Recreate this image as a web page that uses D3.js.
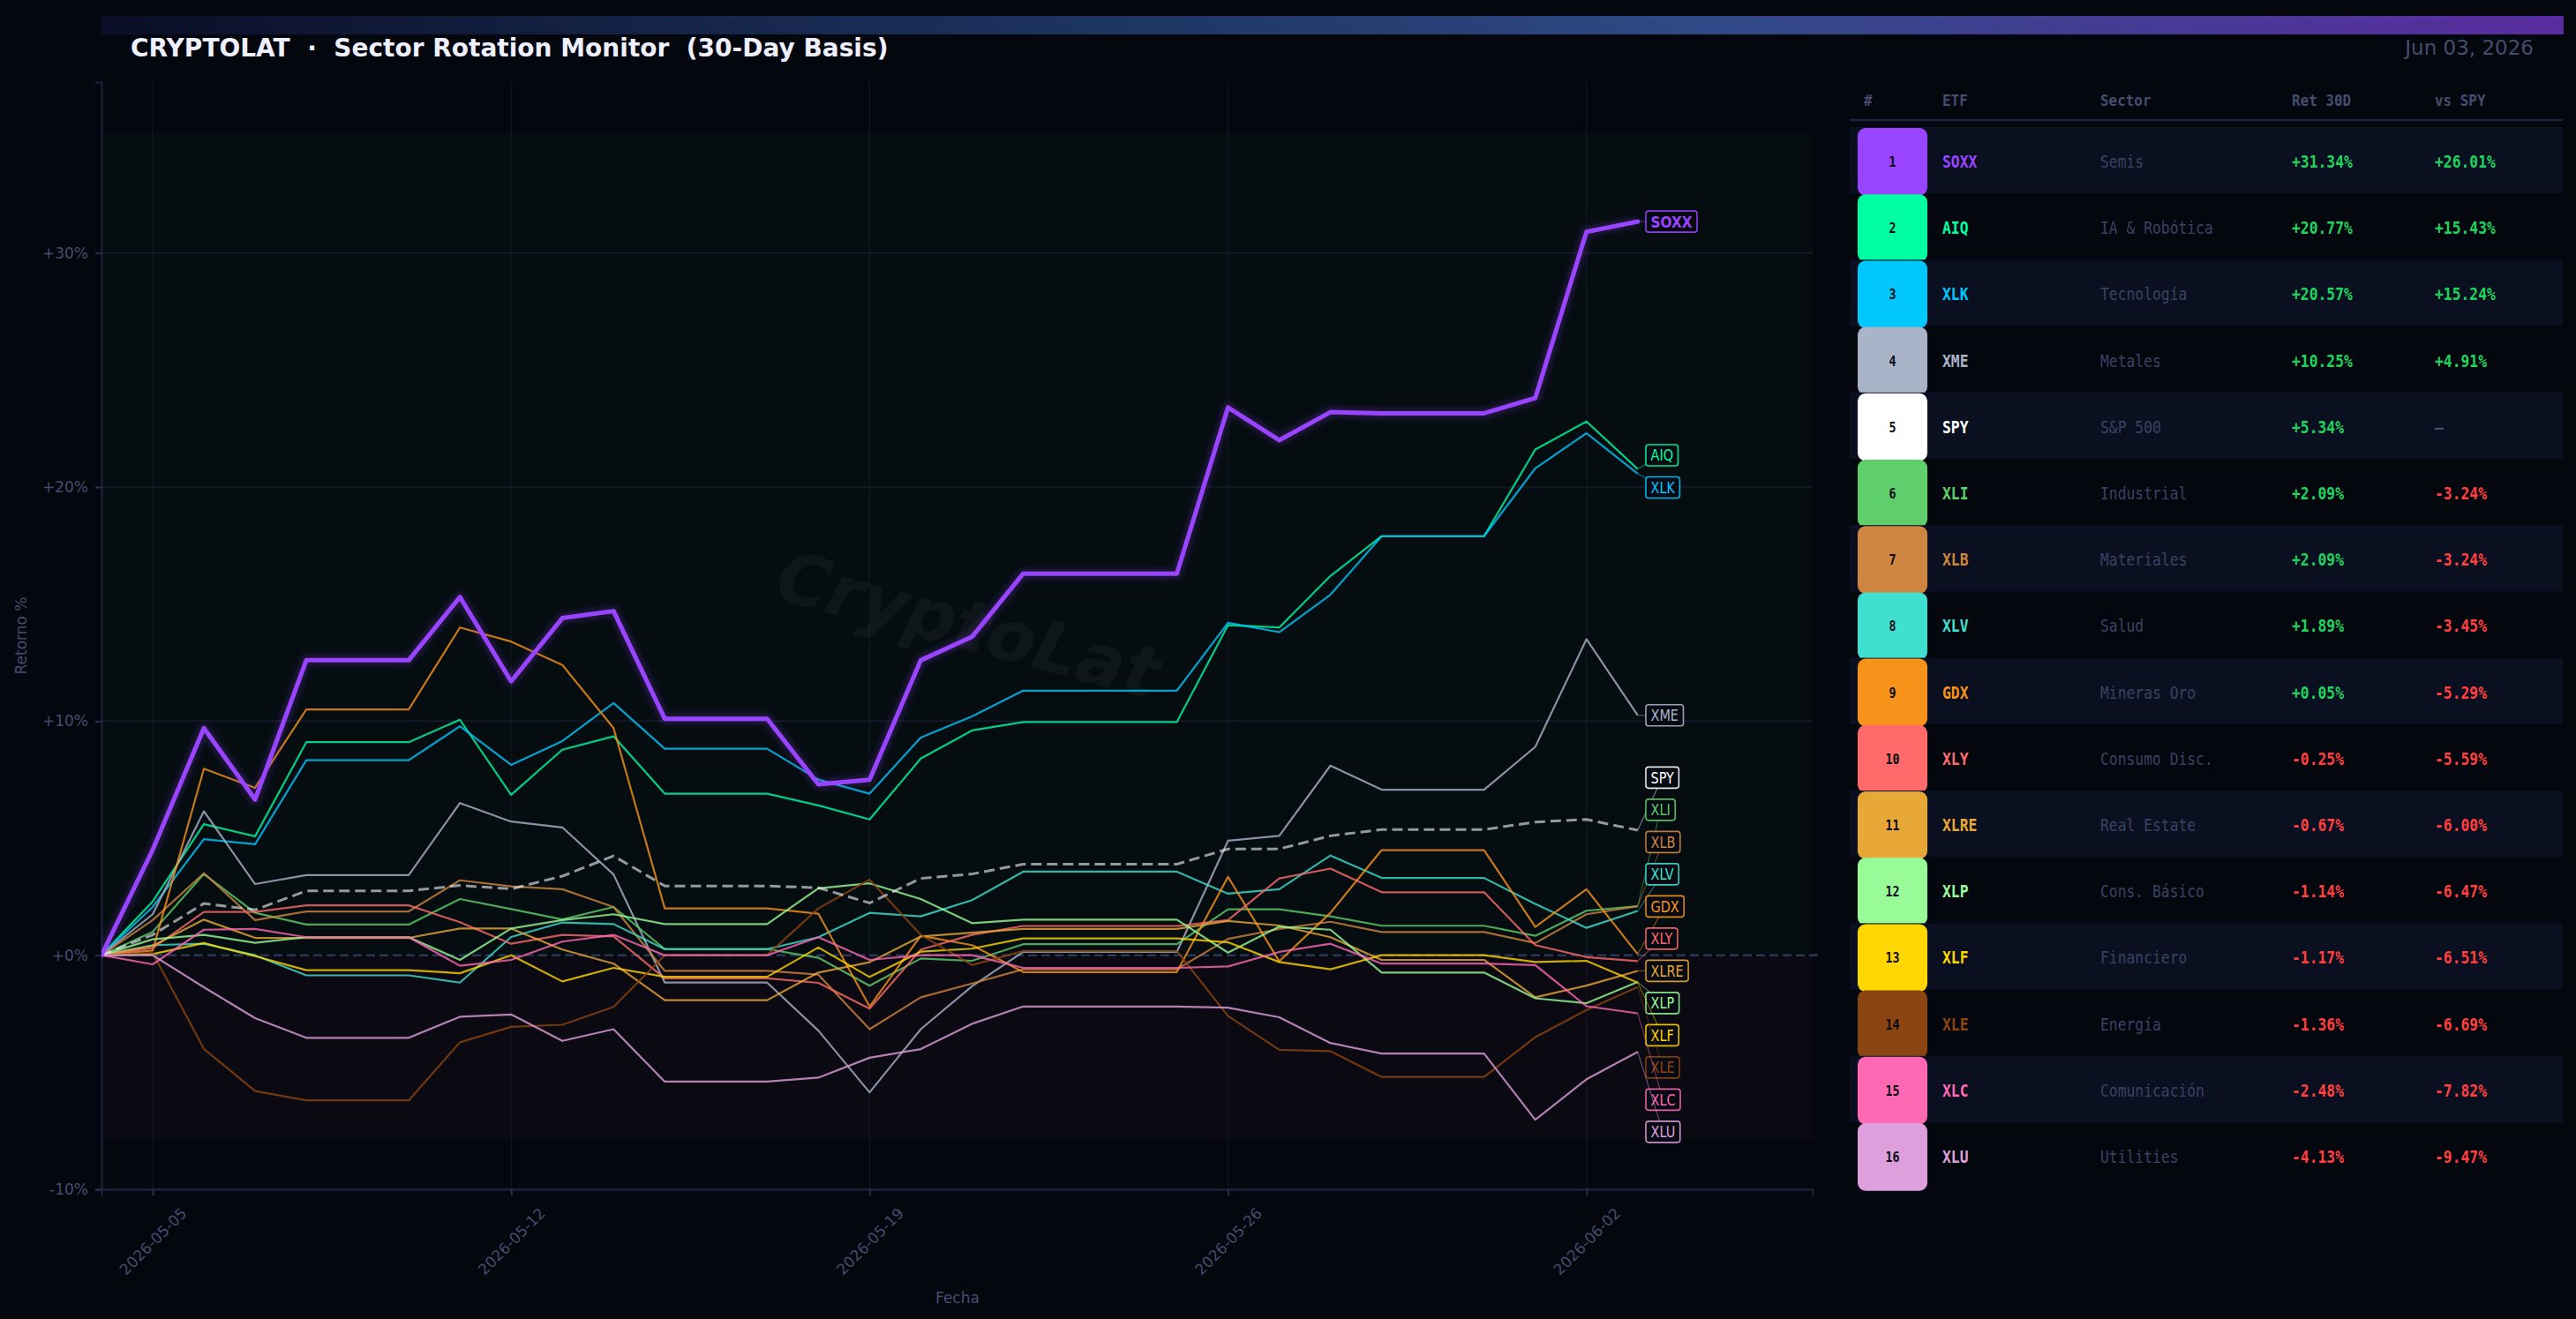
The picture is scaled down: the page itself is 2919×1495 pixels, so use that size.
<!DOCTYPE html>
<html>
<head>
<meta charset="utf-8">
<script src="https://cdn.jsdelivr.net/npm/d3@7"></script>
<style>
  html, body { margin: 0; padding: 0; background: #05070e; }
  svg { display: block; }
</style>
</head>
<body>
<div id="chart"></div>
<script>
// ---- donnees ----
const tickers = ["SOXX", "AIQ", "XLK", "XME", "SPY", "XLI", "XLB", "XLV", "GDX", "XLY", "XLRE", "XLP", "XLF", "XLE", "XLC", "XLU"];
const sectors = ["Semis", "IA & Robótica", "Tecnología", "Metales", "S&P 500", "Industrial", "Materiales", "Salud", "Mineras Oro", "Consumo Disc.", "Real Estate", "Cons. Básico", "Financiero", "Energía", "Comunicación", "Utilities"];
const colors = ["#9945ff", "#00ffa3", "#00c8ff", "#a9b4c8", "#ffffff", "#5ecf6a", "#cd853f", "#40e0d0", "#f7931a", "#ff6b6b", "#e8a838", "#98fb98", "#ffd700", "#8b4513", "#ff69b4", "#dda0dd"];
const ret30 = [31.34, 20.77, 20.57, 10.25, 5.34, 2.09, 2.09, 1.89, 0.05, -0.25, -0.67, -1.14, -1.17, -1.36, -2.48, -4.13];
const vsSpy = [26.01, 15.43, 15.24, 4.91, null, -3.24, -3.24, -3.45, -5.29, -5.59, -6.00, -6.47, -6.51, -6.69, -7.82, -9.47];

const startDate = new Date(2026, 4, 4);
const endDate = new Date(2026, 5, 3);
const yTicks = [-10, 0, 10, 20, 30];

// retour cumule (%) par jour, 2026-05-04 -> 2026-06-03
const SOXX = [0, 4.5, 9.7, 6.65, 12.6, 12.6, 12.6, 15.3, 11.7, 14.4, 14.7, 10.1, 10.1, 10.1, 7.3, 7.5, 12.6, 13.6, 16.3, 16.3, 16.3, 16.3, 23.4, 22.0, 23.2, 23.15, 23.15, 23.15, 23.8, 30.9, 31.34];
const AIQ = [0, 2.3, 5.6, 5.08, 9.1, 9.1, 9.1, 10.06, 6.85, 8.78, 9.35, 6.9, 6.9, 6.9, 6.4, 5.8, 8.4, 9.6, 9.96, 9.96, 9.96, 9.96, 14.1, 14.0, 16.2, 17.9, 17.9, 17.9, 21.6, 22.8, 20.77];
const XLK = [0, 2.06, 4.96, 4.74, 8.33, 8.33, 8.33, 9.78, 8.13, 9.15, 10.77, 8.82, 8.82, 8.82, 7.5, 6.9, 9.3, 10.2, 11.3, 11.3, 11.3, 11.3, 14.2, 13.8, 15.4, 17.9, 17.9, 17.9, 20.8, 22.3, 20.57];
const XME = [0, 1.75, 6.15, 3.04, 3.42, 3.42, 3.42, 6.5, 5.71, 5.46, 3.45, -1.17, -1.17, -1.17, -3.22, -5.86, -3.16, -1.33, 0.14, 0.14, 0.14, 0.14, 4.89, 5.1, 8.1, 7.07, 7.07, 7.07, 8.9, 13.5, 10.25];
const SPY = [0, 0.87, 2.21, 1.94, 2.75, 2.75, 2.75, 2.98, 2.83, 3.38, 4.24, 2.96, 2.96, 2.96, 2.88, 2.23, 3.28, 3.47, 3.89, 3.89, 3.89, 3.89, 4.54, 4.54, 5.1, 5.37, 5.37, 5.37, 5.69, 5.8, 5.34];
const XLI = [0, 1.0, 3.47, 1.81, 1.31, 1.31, 1.31, 2.4, 1.97, 1.53, 2.06, 0.26, 0.26, 0.26, -0.11, -1.3, -0.14, -0.24, 0.47, 0.47, 0.47, 0.47, 1.96, 1.96, 1.66, 1.26, 1.26, 1.26, 0.83, 1.9, 2.09];
const XLB = [0, 1.5, 3.5, 1.5, 1.87, 1.87, 1.87, 3.2, 2.94, 2.82, 2.06, -0.67, -0.67, -0.67, -0.83, -3.16, -1.8, -1.21, -0.6, -0.6, -0.6, -0.6, 0.7, 1.12, 1.43, 0.99, 0.99, 0.99, 0.52, 1.75, 2.09];
const XLV = [0, 0.43, 0.49, 0, -0.86, -0.86, -0.86, -1.17, 0.78, 1.4, 1.33, 0.26, 0.26, 0.26, 0.77, 1.81, 1.66, 2.35, 3.57, 3.57, 3.57, 3.57, 2.63, 2.82, 4.26, 3.3, 3.3, 3.3, 2.19, 1.17, 1.89];
const GDX = [0, 0.2, 7.97, 7.15, 10.5, 10.5, 10.5, 14.0, 13.4, 12.4, 9.7, 2.0, 2.0, 2.0, 1.77, -2.19, 0.83, 0.43, -0.72, -0.72, -0.72, -0.72, 3.35, -0.26, 1.81, 4.49, 4.49, 4.49, 1.21, 2.82, 0.05];
const XLY = [0, 0.3, 1.85, 1.85, 2.13, 2.13, 2.13, 1.41, 0.49, 0.87, 0.8, -0.99, -0.99, -0.99, -1.18, -2.28, 0.24, 0.87, 1.25, 1.25, 1.25, 1.25, 1.5, 3.28, 3.7, 2.69, 2.69, 2.69, 0.43, -0.08, -0.25];
const XLRE = [0, 0.4, 1.52, 0.74, 0.74, 0.74, 0.74, 1.14, 1.14, 0.24, -0.36, -1.92, -1.92, -1.92, -0.74, -0.3, 0.8, 0.96, 1.12, 1.12, 1.12, 1.12, 1.46, 1.27, 0.77, -0.2, -0.2, -0.2, -1.8, -1.3, -0.67];
const XLP = [0, 0.68, 0.87, 0.53, 0.77, 0.77, 0.77, -0.2, 1.14, 1.5, 1.75, 1.33, 1.33, 1.33, 2.86, 3.07, 2.4, 1.37, 1.52, 1.52, 1.52, 1.52, 0.11, 1.22, 1.09, -0.74, -0.74, -0.74, -1.84, -2.05, -1.14];
const XLF = [0, 0.05, 0.52, -0.04, -0.64, -0.64, -0.64, -0.77, 0, -1.12, -0.54, -0.92, -0.92, -0.92, 0.33, -0.93, 0.15, 0.28, 0.72, 0.72, 0.72, 0.72, 0.55, -0.29, -0.6, 0, 0, 0, -0.29, -0.24, -1.17];
const XLE = [0, 0.1, -4.0, -5.8, -6.2, -6.2, -6.2, -3.72, -3.06, -2.97, -2.21, 0.0, 0.0, 0.0, 2.0, 3.23, 0.87, -0.42, 0.18, 0.18, 0.18, 0.18, -2.6, -4.04, -4.1, -5.2, -5.2, -5.2, -3.5, -2.34, -1.36];
const XLC = [0, -0.39, 1.09, 1.12, 0.77, 0.77, 0.77, -0.45, -0.2, 0.58, 0.87, 0, 0, 0, 0.77, -0.2, 0, 0, -0.54, -0.54, -0.54, -0.54, -0.48, 0.14, 0.49, -0.36, -0.36, -0.36, -0.42, -2.18, -2.48];
const XLU = [0, 0, -1.37, -2.69, -3.53, -3.53, -3.53, -2.63, -2.53, -3.66, -3.16, -5.4, -5.4, -5.4, -5.23, -4.38, -4.01, -2.93, -2.19, -2.19, -2.19, -2.19, -2.24, -2.65, -3.75, -4.2, -4.2, -4.2, -7.03, -5.3, -4.13];

const seriesByTicker = { SOXX, AIQ, XLK, XME, SPY, XLI, XLB, XLV, GDX, XLY, XLRE, XLP, XLF, XLE, XLC, XLU };

// ---- mise en page ----
const width = 2919, height = 1495;
const plot = { left: 115, right: 2054, top: 93, bottom: 1348 };
const muted = "#454d6e";

const dates = d3.timeDay.range(startDate, d3.timeDay.offset(endDate, 1));
const rows = tickers.map((t, i) => ({
  ticker: t, sector: sectors[i], color: colors[i], ret: ret30[i], vs: vsSpy[i], rank: i + 1,
  values: seriesByTicker[t].map((v, k) => ({ date: dates[k], v }))
}));

// texte un peu etroit (police condensee a l'horizontale)
const squeeze = (sel, x, y, k) => sel.attr("transform", `translate(${x},${y}) scale(${k},1)`);

const svg = d3.select("#chart").append("svg")
  .attr("width", width).attr("height", height)
  .style("background", "#05070e");

const defs = svg.append("defs");
const grad = defs.append("linearGradient").attr("id", "topbar");
[["0%", "#0a0e26"], ["40%", "#1c3460"], ["65%", "#2f4a86"], ["100%", "#5a2ca0"]]
  .forEach(([o, c]) => grad.append("stop").attr("offset", o).attr("stop-color", c));
defs.append("filter").attr("id", "glow").attr("x", "-5%").attr("y", "-5%").attr("width", "110%").attr("height", "110%")
  .append("feGaussianBlur").attr("stdDeviation", 3);
defs.append("clipPath").attr("id", "plotclip").append("rect")
  .attr("x", plot.left).attr("y", plot.top)
  .attr("width", plot.right - plot.left).attr("height", plot.bottom - plot.top);

// bandeau + titre
svg.append("rect").attr("x", 115).attr("y", 18).attr("width", 2790).attr("height", 21).attr("fill", "url(#topbar)");
svg.append("text").attr("x", 148).attr("y", 64)
  .style("font-family", "DejaVu Sans").style("font-weight", "bold").style("font-size", "28px")
  .attr("fill", "#eef0ff")
  .text("CRYPTOLAT  ·  Sector Rotation Monitor  (30-Day Basis)")
  .attr("xml:space", "preserve").style("white-space", "pre");
svg.append("text").attr("x", 2871).attr("y", 62).attr("text-anchor", "end")
  .style("font-family", "DejaVu Sans").style("font-size", "23px").attr("fill", muted)
  .text(d3.timeFormat("%b %d, %Y")(endDate));

// echelles
const x = d3.scaleTime()
  .domain([startDate, d3.timeHour.offset(endDate, 82)])
  .range([plot.left, plot.right]);
const y = d3.scaleLinear().domain([-10, 37.3]).range([plot.bottom, plot.top]);

const maxV = d3.max(rows, r => d3.max(r.values, d => d.v));
const minV = d3.min(rows, r => d3.min(r.values, d => d.v));

// zones
svg.append("rect").attr("x", plot.left).attr("width", plot.right - plot.left)
  .attr("y", y(maxV * 1.12)).attr("height", y(0) - y(maxV * 1.12)).attr("fill", "#050d11");
svg.append("rect").attr("x", plot.left).attr("width", plot.right - plot.left)
  .attr("y", y(0)).attr("height", y(minV * 1.12) - y(0)).attr("fill", "#0b0911");

// grille
const xTickVals = dates.filter(d => d.getDay() === 2);
svg.append("g").selectAll("line").data(yTicks.filter(t => t !== 0)).join("line")
  .attr("x1", plot.left).attr("x2", plot.right).attr("y1", d => y(d)).attr("y2", d => y(d))
  .attr("stroke", "#161c2c").attr("stroke-width", 1.5);
svg.append("g").selectAll("line").data(xTickVals).join("line")
  .attr("x1", d => x(d)).attr("x2", d => x(d)).attr("y1", plot.top).attr("y2", plot.bottom)
  .attr("stroke", "#121725").attr("stroke-width", 1.2);

// filigrane
svg.append("text").attr("transform", "translate(1090,735) rotate(15)")
  .attr("text-anchor", "middle")
  .style("font-family", "DejaVu Sans").style("font-weight", "bold").style("font-style", "italic")
  .style("font-size", "80px").attr("fill", "#ffffff").attr("opacity", 0.035)
  .text("CryptoLat");

// axes
const yAxis = svg.append("g").attr("transform", `translate(${plot.left},0)`)
  .call(d3.axisLeft(y).tickValues(yTicks).tickSize(7).tickPadding(8)
    .tickFormat(d => (d >= 0 ? "+" : "") + d + "%"));
const xAxis = svg.append("g").attr("transform", `translate(0,${plot.bottom})`)
  .call(d3.axisBottom(x).tickValues(xTickVals).tickSize(7).tickFormat(d3.timeFormat("%Y-%m-%d")));
[yAxis, xAxis].forEach(a => {
  a.select(".domain").attr("stroke", "#1e2540").attr("stroke-width", 2);
  a.selectAll(".tick line").attr("stroke", "#2a3252").attr("stroke-width", 2);
  a.selectAll("text").style("font-family", "DejaVu Sans").style("font-size", "17px").attr("fill", muted);
});
xAxis.selectAll(".tick text")
  .attr("y", 0).attr("dy", null)
  .attr("transform", "translate(0,59) rotate(-45)")
  .attr("text-anchor", "middle").attr("dominant-baseline", "central");

svg.append("text").attr("transform", `translate(24,${(plot.top + plot.bottom) / 2}) rotate(-90)`)
  .attr("text-anchor", "middle").attr("dominant-baseline", "central")
  .style("font-family", "DejaVu Sans").style("font-size", "17px").attr("fill", muted).text("Retorno %");
svg.append("text").attr("x", 1085).attr("y", 1477).attr("text-anchor", "middle")
  .style("font-family", "DejaVu Sans").style("font-size", "17px").attr("fill", muted).text("Fecha");

// ligne zero
svg.append("line").attr("x1", plot.left).attr("x2", plot.right + 6).attr("y1", y(0)).attr("y2", y(0))
  .attr("stroke", "#2b3656").attr("stroke-width", 2.5).attr("stroke-dasharray", "10,5");

// lignes
const line = d3.line().x(d => x(d.date)).y(d => y(d.v));
const lines = svg.append("g").attr("clip-path", "url(#plotclip)");
const others = rows.filter(r => r.ticker !== "SOXX" && r.ticker !== "SPY");
lines.selectAll("path.serie").data(others).join("path")
  .attr("class", "serie")
  .attr("d", r => line(r.values))
  .attr("fill", "none").attr("stroke", r => r.color)
  .attr("stroke-width", 2.2).attr("stroke-opacity", 0.8).attr("stroke-linejoin", "round");

const spy = rows.find(r => r.ticker === "SPY");
lines.append("path").attr("d", line(spy.values)).attr("fill", "none")
  .attr("stroke", "#ffffff").attr("stroke-opacity", 0.58).attr("stroke-width", 3)
  .attr("stroke-dasharray", "12,6");

const soxx = rows.find(r => r.ticker === "SOXX");
lines.append("path").attr("d", line(soxx.values)).attr("fill", "none")
  .attr("stroke", soxx.color).attr("stroke-opacity", 0.22).attr("stroke-width", 11)
  .attr("stroke-linejoin", "round").attr("filter", "url(#glow)");
lines.append("path").attr("d", line(soxx.values)).attr("fill", "none")
  .attr("stroke", soxx.color).attr("stroke-width", 5)
  .attr("stroke-linejoin", "round").attr("stroke-linecap", "round");

// etiquettes de fin (anti-collision par groupes centres)
const gap = 36.5;
const labels = rows.map(r => ({ r, target: y(r.ret) }));
labels.sort((a, b) => a.target - b.target);
let groups = labels.map(l => ({ members: [l], pos: l.target }));
let merged = true;
while (merged) {
  merged = false;
  for (let i = 0; i < groups.length - 1; i++) {
    const a = groups[i], b = groups[i + 1];
    const aEnd = a.pos + (a.members.length - 1) * gap / 2;
    const bStart = b.pos - (b.members.length - 1) * gap / 2;
    if (bStart - aEnd < gap) {
      const members = a.members.concat(b.members);
      groups.splice(i, 2, { members, pos: d3.mean(members, m => m.target) });
      merged = true;
      break;
    }
  }
}
groups.forEach(g => g.members.forEach((m, k) => { m.y = g.pos + (k - (g.members.length - 1) / 2) * gap; }));

const lastX = x(endDate);
const labelX = 1865;
const lk = 0.85;
const lab = svg.append("g");
labels.forEach(l => {
  const bold = l.r.ticker === "SOXX";
  const g = lab.append("g");
  const t = g.append("text")
    .attr("dominant-baseline", "central")
    .style("font-family", "DejaVu Sans").style("font-size", bold ? "18px" : "17px")
    .style("font-weight", bold ? "bold" : "normal")
    .attr("fill", l.r.color).text(l.r.ticker)
    .call(squeeze, labelX + 5.5, l.y + 0.5, lk);
  const w = t.node().getComputedTextLength() * lk + 11;
  g.insert("rect", "text")
    .attr("x", labelX).attr("y", l.y - 12).attr("width", w).attr("height", 24).attr("rx", 3)
    .attr("fill", "#070a12").attr("stroke", l.r.color).attr("stroke-width", 1.6).attr("stroke-opacity", 0.9);
  g.insert("line", "rect")
    .attr("x1", lastX).attr("y1", y(l.r.ret)).attr("x2", labelX + w / 2).attr("y2", l.y)
    .attr("stroke", l.r.color).attr("stroke-opacity", 0.45).attr("stroke-width", 1.2);
});

// ---- tableau ----
const tbl = { left: 2096, right: 2904, top: 144, rowH: 75.2 };
const cols = { rank: 2144.5, etf: 2201, sector: 2380, ret: 2597, vs: 2759 };
const mono = "DejaVu Sans Mono";
const green = "#1fd35f", red = "#ff4040";
const tk = 0.86;

const head = svg.append("g").style("font-family", mono).style("font-size", "18.5px")
  .style("font-weight", "bold").attr("fill", muted);
[["#", 2112], ["ETF", cols.etf], ["Sector", cols.sector], ["Ret 30D", cols.ret], ["vs SPY", cols.vs]]
  .forEach(([txt, cx]) => head.append("text").attr("dominant-baseline", "central").text(txt)
    .call(squeeze, cx, 114, tk));
svg.append("line").attr("x1", tbl.left).attr("x2", tbl.right).attr("y1", 136).attr("y2", 136)
  .attr("stroke", "#1e2540").attr("stroke-width", 2.5);

const rowG = svg.append("g").selectAll("g").data(rows).join("g")
  .attr("transform", (d, i) => `translate(0,${tbl.top + i * tbl.rowH})`);
rowG.filter((d, i) => i % 2 === 0).append("rect")
  .attr("x", tbl.left).attr("width", tbl.right - tbl.left).attr("height", tbl.rowH).attr("fill", "#0b1020");
rowG.append("rect").attr("x", 2105).attr("y", 1).attr("width", 79).attr("height", tbl.rowH + 1.5)
  .attr("rx", 9).attr("fill", d => d.color);
const cy = tbl.rowH / 2 + 2;
rowG.append("text").attr("text-anchor", "middle")
  .attr("dominant-baseline", "central").style("font-family", mono).style("font-weight", "bold")
  .style("font-size", "15.5px").attr("fill", "#0b0b10").text(d => d.rank)
  .call(squeeze, cols.rank, cy, tk);
rowG.append("text").attr("dominant-baseline", "central")
  .style("font-family", mono).style("font-weight", "bold").style("font-size", "19px")
  .attr("fill", d => d.color).text(d => d.ticker)
  .call(squeeze, cols.etf, cy, tk);
rowG.append("text").attr("dominant-baseline", "central")
  .style("font-family", mono).style("font-size", "19px").attr("fill", "#3a4262").text(d => d.sector)
  .call(squeeze, cols.sector, cy, tk);
const pct = v => (v >= 0 ? "+" : "") + v.toFixed(2) + "%";
rowG.append("text").attr("dominant-baseline", "central")
  .style("font-family", mono).style("font-weight", "bold").style("font-size", "19px")
  .attr("fill", d => d.ret >= 0 ? green : red).text(d => pct(d.ret))
  .call(squeeze, cols.ret, cy, tk);
rowG.append("text").attr("dominant-baseline", "central")
  .style("font-family", mono).style("font-weight", "bold").style("font-size", "19px")
  .attr("fill", d => d.vs === null ? muted : (d.vs >= 0 ? green : red))
  .text(d => d.vs === null ? "—" : pct(d.vs))
  .call(squeeze, cols.vs, cy, tk);
</script>
</body>
</html>
